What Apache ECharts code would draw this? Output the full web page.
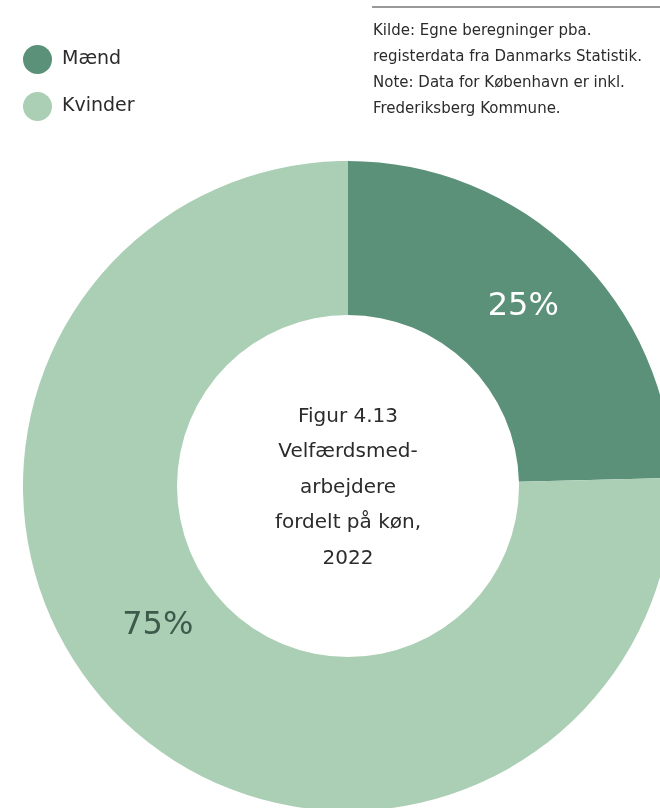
<!DOCTYPE html>
<html>
<head>
<meta charset="utf-8">
<script src="https://cdn.jsdelivr.net/npm/echarts@6/dist/echarts.min.js"></script>
<style>
html,body{margin:0;padding:0;background:#fff;}
#chart{width:660px;height:808px;}
</style>
</head>
<body>
<div id="chart"></div>
<script>
const categories = ["Mænd", "Kvinder"];
const values = [24.6, 75.4];
const valueLabels = ["25%", "75%"];
const centerTitle = "Figur 4.13\nVelfærdsmed-\narbejdere\nfordelt på køn,\n2022";
const sourceNote = "Kilde: Egne beregninger pba.\nregisterdata fra Danmarks Statistik.\nNote: Data for København er inkl.\nFrederiksberg Kommune.";

const colors = ["#5b9179", "#abcfb4"];
const labelColors = ["#ffffff", "#3d5a4d"];
const labelOffsets = [[0, 0], [-15, -40]];

const chart = echarts.init(document.getElementById('chart'), null, {renderer: 'canvas'});
const FONT = '"DejaVu Sans", sans-serif';

chart.setOption({
  animation: false,
  color: colors,
  title: [
    {
      text: centerTitle,
      left: 348,
      top: 399,
      padding: 0,
      textAlign: 'center',
      textStyle: {fontFamily: FONT, fontSize: 20, fontWeight: 'normal', color: '#2b2b2b', lineHeight: 35.5}
    },
    {
      text: sourceNote,
      left: 373,
      top: 18,
      padding: 0,
      textStyle: {fontFamily: FONT, fontSize: 15, fontWeight: 'normal', color: '#2b2b2b', lineHeight: 26}
    }
  ],
  legend: {
    orient: 'vertical',
    left: 23,
    top: 45,
    padding: 0,
    icon: 'circle',
    itemWidth: 29,
    itemHeight: 29,
    itemGap: 18,
    textStyle: {fontFamily: FONT, fontSize: 19, color: '#2b2b2b', padding: [0, 0, 0, 5]},
    data: categories
  },
  graphic: [
    {type: 'line', shape: {x1: 372, y1: 7, x2: 660, y2: 7}, style: {stroke: '#777', lineWidth: 1.5}}
  ],
  series: [{
    type: 'pie',
    center: [348, 486],
    radius: [171, 325],
    startAngle: 90,
    clockwise: true,
    silent: true,
    itemStyle: {borderWidth: 0},
    label: {show: true, position: 'inside'},
    labelLine: {show: false},
    data: categories.map((c, i) => ({
      name: c,
      value: values[i],
      label: {
        formatter: valueLabels[i],
        color: labelColors[i],
        fontFamily: FONT,
        fontSize: 32,
        fontWeight: 'normal',
        offset: labelOffsets[i]
      }
    }))
  }]
});
</script>
</body>
</html>
